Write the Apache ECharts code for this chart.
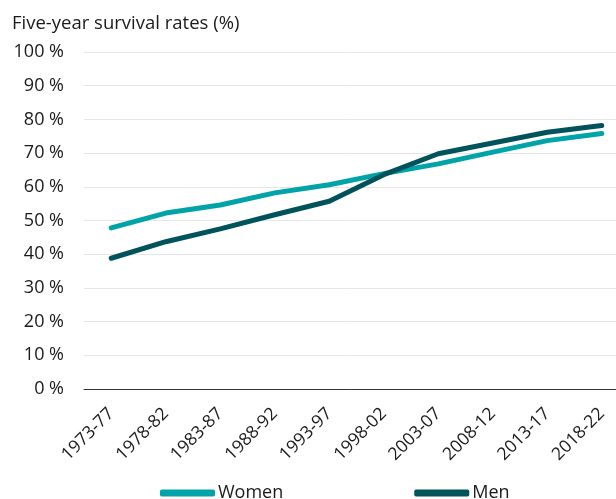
<!DOCTYPE html>
<html>
<head>
<meta charset="utf-8">
<script src="https://cdn.jsdelivr.net/npm/echarts@6/dist/echarts.min.js"></script>
<style>
    html, body { margin: 0; padding: 0; background: #fff; }
    #chart { width: 616px; height: 499px; }
</style>
</head>
<body>
<div id="chart"></div>
<script>
    var periods = ['1973-77', '1978-82', '1983-87', '1988-92', '1993-97', '1998-02', '2003-07', '2008-12', '2013-17', '2018-22'];
    var women = [47.8, 52.2, 54.6, 58.2, 60.6, 63.9, 66.8, 70.3, 73.7, 75.8];
    var men = [38.8, 43.7, 47.5, 51.7, 55.7, 63.6, 69.8, 73.0, 76.2, 78.2];

    var chart = echarts.init(document.getElementById('chart'));
    chart.setOption({
        textStyle: { fontFamily: 'Open Sans' },
        title: {
            text: 'Five-year survival rates (%)',
            left: 7,
            top: 9,
            textStyle: { fontFamily: 'Open Sans', fontSize: 18.5, fontWeight: 'normal', color: '#1a1a1a' }
        },
        legend: {
            bottom: -8,
            left: 155,
            itemGap: 131,
            itemWidth: 55,
            itemHeight: 7,
            icon: 'roundRect',
            textStyle: { fontSize: 18, color: '#1a1a1a', padding: [0, 0, 0, -2] },
            data: ['Women', 'Men']
        },
        grid: {
            left: 84,
            right: -13,
            top: 52,
            bottom: 110,
            containLabel: false,
            outerBoundsMode: 'none'
        },
        xAxis: {
            type: 'category',
            data: periods,
            axisLine: { lineStyle: { color: '#333', width: 1 } },
            axisTick: { show: false },
            axisLabel: { rotate: 45, fontSize: 17.5, color: '#1a1a1a', margin: 22, interval: 0 }
        },
        yAxis: {
            type: 'value',
            min: 0,
            max: 100,
            interval: 10,
            axisLabel: { formatter: '{value} %', fontSize: 18, color: '#1a1a1a', margin: 20 },
            splitLine: { lineStyle: { color: '#e6e6e6', width: 1 } }
        },
        series: [
            {
                name: 'Women',
                type: 'line',
                data: women,
                symbol: 'none',
                color: '#00a3a8',
                lineStyle: { width: 5, cap: 'round', join: 'round' }
            },
            {
                name: 'Men',
                type: 'line',
                data: men,
                symbol: 'none',
                color: '#00535a',
                lineStyle: { width: 5, cap: 'round', join: 'round' }
            }
        ]
    });
</script>
</body>
</html>
